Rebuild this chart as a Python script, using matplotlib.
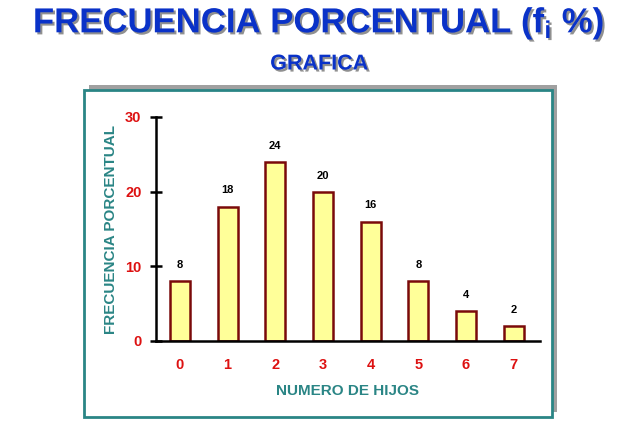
import matplotlib.pyplot as plt
import matplotlib.patheffects as pe
from matplotlib.patches import Rectangle

hijos = [0, 1, 2, 3, 4, 5, 6, 7]
frec_pct = [8, 18, 24, 20, 16, 8, 4, 2]
yticks = [0, 10, 20, 30]

W, H = 638, 442
fig = plt.figure(figsize=(6.38, 4.42), dpi=100)
plt.rcParams['font.family'] = ['Liberation Sans', 'DejaVu Sans']

teal = "#2a8585"
red = "#dd1111"
blue = "#0a32c8"

# frame with shadow (figure pixel coords -> fraction)
def px(x0, y0, x1, y1):
    return (x0 / W, 1 - y1 / H), (x1 - x0) / W, (y1 - y0) / H

xy, w, h = px(89, 85, 557, 412)
fig.patches.append(Rectangle(xy, w, h, transform=fig.transFigure, facecolor="#a0a0a0", edgecolor="none", zorder=0))
xy, w, h = px(84, 90, 552, 417)
fig.patches.append(Rectangle(xy, w, h, transform=fig.transFigure, facecolor="white", edgecolor=teal, lw=2, zorder=1))

shadow = [pe.withSimplePatchShadow(offset=(1.5, -1.5), shadow_rgbFace="#909090", alpha=1)]
fig.text(0.5, 1 - 23 / H, r"FRECUENCIA PORCENTUAL (f$_\mathregular{i}$ %)", ha="center", va="center",
         fontsize=25, fontweight="bold", color=blue, path_effects=shadow)
fig.text(0.5, 1 - 64 / H, "GRAFICA", ha="center", va="center",
         fontsize=15.5, fontweight="bold", color=blue, path_effects=shadow)

ax = fig.add_axes([156 / W, 1 - 341 / H, 384 / W, 224 / H])
ax.set_zorder(5)
ax.patch.set_alpha(0)
ax.bar(hijos, frec_pct, width=0.42, facecolor="#ffff99", edgecolor="#7a0a0a", lw=1.8, zorder=2)
for x, v in zip(hijos, frec_pct):
    ax.annotate(str(v), (x, v), xytext=(0, 8), textcoords="offset points", ha="center", va="bottom",
                fontsize=8, fontweight="bold", color="black")

ax.set_xlim(-0.5, 7.55)
ax.set_ylim(0, 30)
ax.set_yticks(yticks)
ax.set_xticks(hijos)
for s in ["top", "right"]:
    ax.spines[s].set_visible(False)
ax.spines["left"].set_linewidth(1.8)
ax.spines["bottom"].set_linewidth(1.8)
ax.tick_params(axis="y", direction="inout", length=9, width=1.8, colors="black", labelcolor=red,
               labelsize=10.5, pad=6)
ax.tick_params(axis="x", length=0, labelcolor=red, labelsize=10.5, pad=12)
for lbl in ax.get_xticklabels() + ax.get_yticklabels():
    lbl.set_fontweight("bold")

ax.set_xlabel("NUMERO DE HIJOS", fontsize=11, fontweight="bold", color=teal, labelpad=9)
ax.set_ylabel("FRECUENCIA PORCENTUAL", fontsize=11, fontweight="bold", color=teal, labelpad=5)

fig.savefig("out.png", dpi=100)
